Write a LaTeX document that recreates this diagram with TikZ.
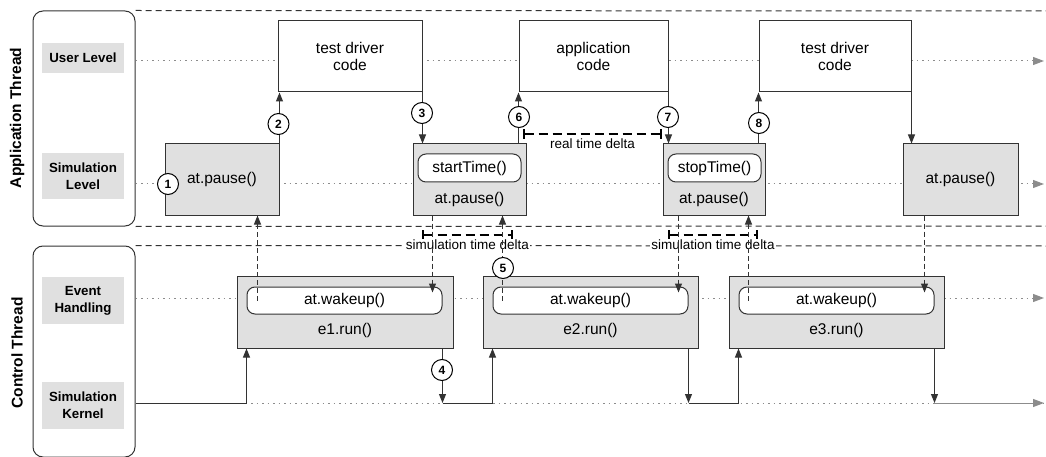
\documentclass[tikz,border=0pt]{standalone}
\usepackage{fontspec}
\setmainfont{Liberation Sans}
\usepackage{tikz}
\usetikzlibrary{arrows.meta}
\colorlet{mygray}{black!12}
\colorlet{myline}{black!80}
\colorlet{mydot}{black!45}

\begin{document}
\begin{tikzpicture}[x=1pt, y=-1pt,
		lane/.style = {mydot, line width=1pt, dash pattern=on 1.5pt off 4pt},
		laneend/.style = {-{Triangle[length=11pt,width=8pt]}},
		sep/.style = {myline, line width=1pt, dash pattern=on 6pt off 4pt},
		thread/.style = {draw=myline, line width=1pt, rounded corners=10pt},
		title/.style = {font=\fontsize{15.5}{18}\selectfont\bfseries},
		lvl/.style = {fill=mygray, align=center, minimum width=82pt, inner sep=0pt, font=\fontsize{13.3}{16.7}\selectfont\bfseries},
		code/.style = {draw=myline, line width=1pt, fill=white, align=center, font=\fontsize{15.5}{17.5}\selectfont},
		sim/.style = {draw=myline, line width=1pt, fill=mygray, font=\fontsize{15.5}{17.5}\selectfont},
		call/.style = {draw=myline, line width=1pt, fill=white, rounded corners=8pt, font=\fontsize{15.5}{17.5}\selectfont},
		txt/.style = {inner sep=0pt, font=\fontsize{15.5}{17.5}\selectfont},
		num/.style = {circle, draw, line width=1pt, fill=white, inner sep=0pt, minimum size=21pt, font=\fontsize{12}{12}\selectfont\bfseries},
		flow/.style = {myline, line width=1pt, -{Triangle[length=9pt,width=7pt]}},
		wake/.style = {flow, dash pattern=on 5pt off 3pt},
		delta/.style = {line width=2pt, dash pattern=on 9pt off 5pt, {Bar[width=10pt]}-{Bar[width=10pt]}},
		note/.style = {fill=white, inner sep=1pt, font=\fontsize{13.5}{15}\selectfont}]
	\useasboundingbox (0,0) rectangle (1046,457);
	\coordinate (s1) at (1046,11);
	\coordinate (s2) at (1046,226);
	\coordinate (s3) at (1046,246);
	\coordinate (u1) at (1044,61);
	\coordinate (u2) at (1044,184);
	\coordinate (u3) at (1044,298);
	\coordinate (u4) at (1044,403);

	% threads and levels
	\node[thread, minimum width=102pt, minimum height=215pt] (app) at (84,118.5) {};
	\node[thread, minimum width=102pt, minimum height=211pt] (ctl) at (84,351.5) {};
	\node[title, rotate=90] (appt) at (17,118) {Application Thread};
	\node[title, rotate=90] (ctlt) at (17,353) {Control Thread};
	\node[lvl, minimum height=30pt] (ul) at (83,58) {User Level};
	\node[lvl, minimum height=46pt] (sl) at (83,176) {Simulation\\Level};
	\node[lvl, minimum height=47pt] (eh) at (83,300.5) {Event\\Handling};
	\node[lvl, minimum height=47pt] (sk) at (83,405.5) {Simulation\\Kernel};

	\draw[sep] (app.north east) -- (s1);
	\draw[sep] (app.south east) -- (s2);
	\draw[sep] (ctl.north east) -- (s3);
	\draw[lane, laneend] (app.east |- u1) -- (u1);
	\draw[lane, laneend] (app.east |- u2) -- (u2);
	\draw[lane, laneend] (ctl.east |- u3) -- (u3);
	\draw[lane] (ctl.east |- u4) -- (u4);

	% application thread
	\node[code, minimum width=144pt, minimum height=71pt] (td1) at (350,56.5) {test driver\\code};
	\node[code, minimum width=149pt, minimum height=71pt] (apc) at (593.5,56.5) {application\\code};
	\node[code, minimum width=152pt, minimum height=71pt] (td2) at (835,56.5) {test driver\\code};
	\node[sim, minimum width=114pt, minimum height=71pt] (p1) at (222,179.5) {at.pause()};
	\node[sim, minimum width=113pt, minimum height=71pt] (p2) at (469.5,179.5) {};
	\node[call, minimum width=103pt, minimum height=28pt] (st) at (469.5,168) {startTime()};
	\node[txt] (p2t) at (469.5,199) {at.pause()};
	\node[sim, minimum width=102pt, minimum height=71pt] (p3) at (714,179.5) {};
	\node[call, minimum width=93pt, minimum height=28pt] (sp) at (714.5,168) {stopTime()};
	\node[txt] (p3t) at (714,199) {at.pause()};
	\node[sim, minimum width=115pt, minimum height=71pt] (p4) at (960.5,179.5) {at.pause()};

	% control thread
	\node[sim, minimum width=216pt, minimum height=72pt] (e1) at (345,312) {};
	\node[call, minimum width=195pt, minimum height=27pt] (w1) at (344.5,300.5) {at.wakeup()};
	\node[txt] (r1) at (345,330) {e1.run()};
	\node[sim, minimum width=215pt, minimum height=72pt] (e2) at (590.5,312) {};
	\node[call, minimum width=195pt, minimum height=27pt] (w2) at (590.5,300.5) {at.wakeup()};
	\node[txt] (r2) at (590.5,330) {e2.run()};
	\node[sim, minimum width=215pt, minimum height=72pt] (e3) at (836.5,312) {};
	\node[call, minimum width=195pt, minimum height=27pt] (w3) at (836.5,300.5) {at.wakeup()};
	\node[txt] (r3) at (836.5,330) {e3.run()};

	% time deltas
	\coordinate (rt1) at (523,134);
	\coordinate (rt2) at (662,134);
	\coordinate (sa1) at (422,235);
	\coordinate (sa2) at (513,235);
	\coordinate (sb1) at (668,235);
	\coordinate (sb2) at (758,235);
	\draw[delta] (rt1) -- (rt2) node[note, midway, below=3pt] (rtd) {real time delta};
	\draw[delta] (sa1) -- (sa2) node[note, midway, below=3pt] (sda) {simulation time delta};
	\draw[delta] (sb1) -- (sb2) node[note, midway, below=3pt] (sdb) {simulation time delta};

	% switches between levels
	\draw[flow] (p1.north east) -- (p1.north east |- td1.south);
	\draw[flow] (td1.south east) -- (td1.south east |- p2.north);
	\draw[flow] (apc.south west |- p2.north) -- (apc.south west);
	\draw[flow] (apc.south east) -- (apc.south east |- p3.north);
	\draw[flow] (td2.south west |- p3.north) -- (td2.south west);
	\draw[flow] (td2.south east) -- (td2.south east |- p4.north);

	\draw[flow] (ctl.east |- u4) -| (w1.west |- e1.south);
	\draw[flow] (w1.east |- e1.south) -- (w1.east |- u4);
	\draw[flow] (w1.east |- u4) -| (w2.west |- e2.south);
	\draw[flow] (w2.east |- e2.south) -- (w2.east |- u4);
	\draw[flow] (w2.east |- u4) -| (w3.west |- e3.south);
	\draw[flow] (w3.east |- e3.south) -- (w3.east |- u4);
	\draw[mydot, line width=1pt, laneend] (w3.east |- u4) -- (u4);

	% between threads
	\draw[wake] ([xshift=11pt]w1.west) -- ([xshift=11pt]w1.west |- p1.south);
	\draw[wake] ([xshift=-10pt]w1.east |- p2.south) -- ([xshift=-10pt,yshift=-6pt]w1.north east);
	\draw[wake] ([xshift=10pt]w2.west) -- ([xshift=10pt]w2.west |- p2.south);
	\draw[wake] ([xshift=-10pt]w2.east |- p3.south) -- ([xshift=-10pt,yshift=-6pt]w2.north east);
	\draw[wake] ([xshift=10pt]w3.west) -- ([xshift=10pt]w3.west |- p3.south);
	\draw[wake] ([xshift=-10pt]w3.east |- p4.south) -- ([xshift=-10pt,yshift=-6pt]w3.north east);

	\node[num] (n1) at (168,184) {1};
	\node[num] (n2) at (278.5,124) {2};
	\node[num] (n3) at (422,113) {3};
	\node[num] (n4) at (442,370) {4};
	\node[num] (n5) at (503,268) {5};
	\node[num] (n6) at (519,117) {6};
	\node[num] (n7) at (668,117) {7};
	\node[num] (n8) at (759,123) {8};
\end{tikzpicture}
\end{document}
